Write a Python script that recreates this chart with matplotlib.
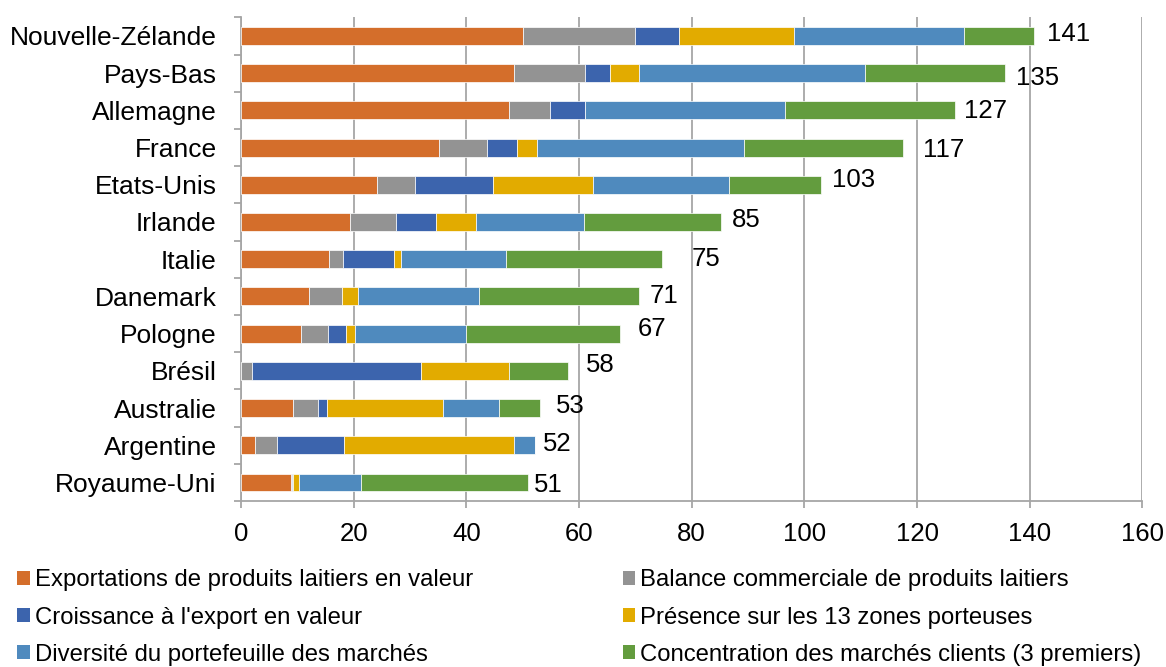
import numpy as np
import matplotlib
matplotlib.use("Agg")
import matplotlib.pyplot as plt
from matplotlib.patches import Patch

plt.rcParams['font.family'] = ['Liberation Sans', 'DejaVu Sans']

countries = ["Nouvelle-Zélande", "Pays-Bas", "Allemagne", "France", "Etats-Unis",
             "Irlande", "Italie", "Danemark", "Pologne", "Brésil", "Australie",
             "Argentine", "Royaume-Uni"]
totals = [141, 135, 127, 117, 103, 85, 75, 71, 67, 58, 53, 52, 51]

exportations = [50.0, 48.4, 47.6, 35.1, 24.1, 19.3, 15.7, 12.0, 10.6, 0.0, 9.3, 2.5, 8.9]
balance = [20.0, 12.7, 7.2, 8.5, 6.8, 8.2, 2.4, 6.0, 4.9, 2.0, 4.3, 3.9, 0.1]
croissance = [7.8, 4.4, 6.3, 5.4, 13.8, 7.1, 9.1, 0.0, 3.2, 30.0, 1.6, 11.9, 0.2]
presence = [20.4, 5.2, 0.0, 3.6, 17.8, 7.1, 1.2, 2.8, 1.5, 15.6, 20.7, 30.1, 1.1]
diversite = [30.1, 40.1, 35.5, 36.7, 24.2, 19.2, 18.6, 21.4, 19.7, 0.0, 9.9, 3.8, 11.0]
concentration = [12.4, 24.9, 30.2, 28.2, 16.2, 24.3, 27.8, 28.4, 27.3, 10.5, 7.2, 0.0, 29.6]

series_names = ["Exportations de produits laitiers en valeur",
                "Balance commerciale de produits laitiers",
                "Croissance à l'export en valeur",
                "Présence sur les 13 zones porteuses",
                "Diversité du portefeuille des marchés",
                "Concentration des marchés clients (3 premiers)"]
colors = ["#D46E2B", "#939393", "#3C64AD", "#E2AB00", "#4F8ABE", "#639C3E"]

# where the total labels sit relative to the bar end (pixels), as in the original
label_dx = [13, 11, 9, 20, 11, 11, 29, 11, 18, 18, 16, 8, 6]
label_dy = [2, -5, -1, -2, 5, 2, 0, 0, 5, 6, 2, 1, -3]

fig = plt.figure(figsize=(11.66, 6.67), dpi=100)
ax = fig.add_axes([0.2067, 0.2488, 0.7730, 0.7252])

y = np.arange(len(countries))
left = np.zeros(len(countries))
handles = []
for name, vals, col in zip(series_names,
                           [exportations, balance, croissance, presence, diversite, concentration],
                           colors):
    vals = np.array(vals)
    ax.barh(y, vals, left=left, height=0.48, color=col, edgecolor='white',
            linewidth=0.5, zorder=3)
    left += vals
    handles.append(Patch(facecolor=col, edgecolor='none', label=name))

for i, t in enumerate(totals):
    ax.annotate(str(t), xy=(left[i], y[i]), xytext=(label_dx[i], label_dy[i]),
                textcoords='offset pixels', ha='left', va='center', fontsize=18.5,
                color='black')

ax.set_xlim(0, 160)
ax.set_ylim(len(countries) - 0.5, -0.5)
ax.set_xticks(np.arange(0, 161, 20))
ax.set_yticks(y)
ax.set_yticklabels(countries)
ax.set_yticks(np.arange(-0.5, len(countries), 1), minor=True)

ax.grid(axis='x', color='#A6A6A6', linewidth=1.3, zorder=0)
ax.set_axisbelow(True)
for s in ['top', 'right']:
    ax.spines[s].set_visible(False)
for s in ['left', 'bottom']:
    ax.spines[s].set_color('#A6A6A6')
    ax.spines[s].set_linewidth(1.3)

ax.tick_params(axis='y', which='major', length=0, pad=17.5, labelsize=19)
ax.tick_params(axis='y', which='minor', length=5, width=1.3, color='#A6A6A6')
ax.tick_params(axis='x', which='major', length=5, width=1.3, color='#A6A6A6',
               pad=10, labelsize=18.5)

# legend rows go left to right, matplotlib fills by column
order = [0, 2, 4, 1, 3, 5]
fig.legend([handles[k] for k in order], [series_names[k] for k in order],
           loc='upper left', bbox_to_anchor=(0.0148, 0.1465), ncol=2, frameon=False,
           fontsize=17.2, handlelength=0.53, handleheight=0.53, handletextpad=0.21,
           labelspacing=0.64, columnspacing=6.26, borderpad=0, borderaxespad=0)

fig.savefig("out.png", dpi=100)
